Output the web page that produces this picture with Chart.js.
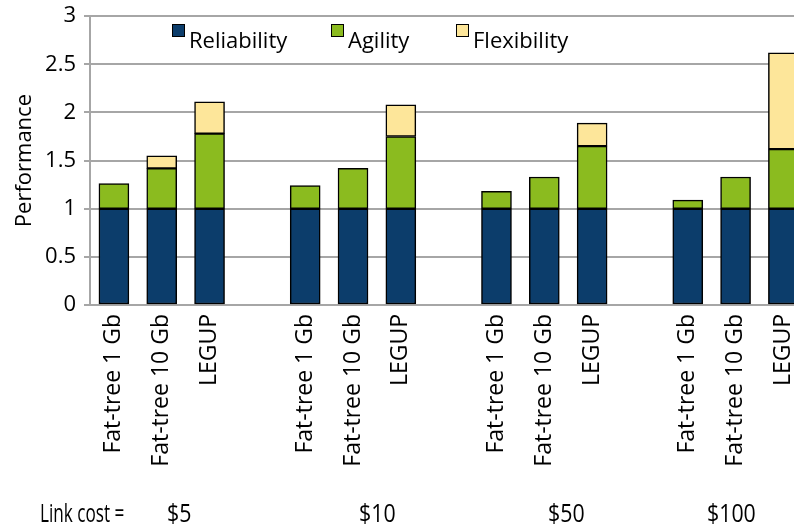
<!DOCTYPE html>
<html lang="en">
<head>
  <meta charset="UTF-8" />
  <title>Performance by Link Cost</title>
  <script src="https://cdn.jsdelivr.net/npm/chart.js"></script>
  <style>
    body {
      margin: 0;
      background: #ffffff;
      overflow: hidden;
      font-family: 'Open Sans', sans-serif;
    }
    #wrap {
      position: relative;
      width: 794px;
      height: 527px;
      overflow: hidden;
    }
    #perfChart {
      position: absolute;
      left: 0;
      top: -5px;
    }
    .legend-item {
      position: absolute;
      top: 24px;
      font-size: 22px;
      color: #000;
      white-space: nowrap;
    }
    .legend-item span {
      display: inline-block;
      width: 11px;
      height: 11px;
      border: 1px solid #000;
      margin-right: 4px;
      vertical-align: 11px;
    }
    .cost {
      position: absolute;
      top: 494px;
      font-size: 26px;
      color: #000;
      white-space: nowrap;
      transform: scaleX(0.82);
      transform-origin: left center;
    }
    .cost.lead {
      transform: scaleX(0.66);
    }
  </style>
</head>
<body>
  <div id="wrap">
    <canvas id="perfChart" width="812" height="532"></canvas>
    <div class="legend-item" style="left:172px"><span style="background:#0c3d6b"></span>Reliability</div>
    <div class="legend-item" style="left:331px"><span style="background:#8bbb1f"></span>Agility</div>
    <div class="legend-item" style="left:456px"><span style="background:#fde69a"></span>Flexibility</div>
    <div class="cost lead" style="left:40px">Link cost =</div>
    <div class="cost" style="left:167px">$5</div>
    <div class="cost" style="left:359px">$10</div>
    <div class="cost" style="left:548px">$50</div>
    <div class="cost" style="left:707px">$100</div>
  </div>

  <script>
    // four link-cost groups, three designs each, blank slot between groups
    const designs = ['Fat-tree 1 Gb', 'Fat-tree 10 Gb', 'LEGUP', ''];
    const labels = [].concat(designs, designs, designs, designs.slice(0, 3));

    const reliability = [1, 1, 1, null, 1, 1, 1, null, 1, 1, 1, null, 1, 1, 1];
    const agility     = [0.26, 0.42, 0.78, null, 0.24, 0.42, 0.75, null, 0.18, 0.33, 0.65, null, 0.09, 0.33, 0.62];
    const flexibility = [null, 0.13, 0.33, null, null, null, 0.33, null, null, null, 0.24, null, null, null, 1.0];

    const xFont = { family: "'Open Sans', sans-serif", size: 23 };
    const yFont = { family: "'Open Sans', sans-serif", size: 22 };

    function seg(label, data, color) {
      return {
        label: label,
        data: data,
        backgroundColor: color,
        borderColor: '#000',
        borderWidth: 1.5,
        borderSkipped: false,
        barThickness: 30
      };
    }

    new Chart(document.getElementById('perfChart'), {
      type: 'bar',
      data: {
        labels: labels,
        datasets: [
          seg('Reliability', reliability, '#0c3d6b'),
          seg('Agility', agility, '#8bbb1f'),
          seg('Flexibility', flexibility, '#fde69a')
        ]
      },
      options: {
        responsive: false,
        animation: false,
        layout: { padding: { top: 10, right: 0, left: 0, bottom: 0 } },
        plugins: {
          legend: { display: false },
          tooltip: { enabled: false }
        },
        scales: {
          x: {
            stacked: true,
            grid: { display: false },
            border: { color: '#a6a6a6', width: 2 },
            ticks: {
              color: '#000',
              font: xFont,
              minRotation: 90,
              maxRotation: 90,
              autoSkip: false,
              padding: 1
            },
            afterFit: s => { s.height = 222; }
          },
          y: {
            stacked: true,
            min: 0,
            max: 3,
            ticks: {
              stepSize: 0.5,
              color: '#000',
              font: yFont,
              padding: 8,
              callback: v => String(v)
            },
            grid: { color: '#a6a6a6', lineWidth: 2, tickLength: 6 },
            border: { color: '#a6a6a6', width: 2 },
            title: { display: true, text: 'Performance', color: '#000', font: yFont, padding: { top: 12, bottom: 0 } },
            afterFit: s => { s.width = 90; }
          }
        }
      }
    });
  </script>
</body>
</html>
